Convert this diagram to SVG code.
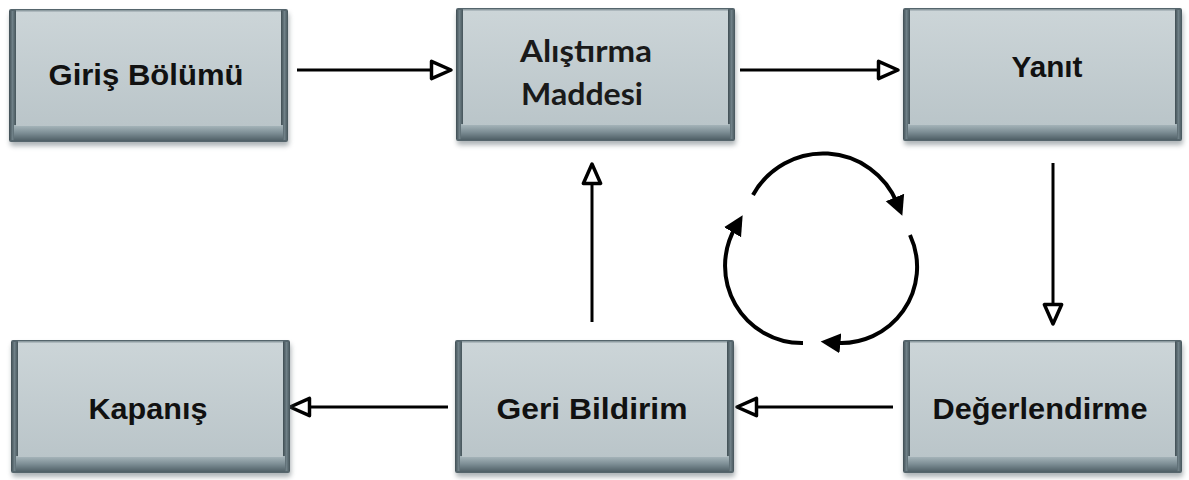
<svg xmlns="http://www.w3.org/2000/svg" xmlns:xlink="http://www.w3.org/1999/xlink" width="1189" height="480" viewBox="0 0 1189 480">
<style>
.lbl{font-family:'Liberation Sans',Arial,sans-serif;font-weight:bold;font-size:30px;fill:#111;text-anchor:middle}
.lbl2{font-family:Lato,'Open Sans',sans-serif;font-weight:bold;font-size:31px;fill:#1a1a1a}
.conn{stroke:#000;stroke-width:3;fill:none}
.cyc{stroke:#000;stroke-width:4;fill:none}
</style>
<defs>
<linearGradient id="face" x1="0" y1="0" x2="0" y2="1">
<stop offset="0" stop-color="#ccd5d8"/>
<stop offset="1" stop-color="#bac5c9"/>
</linearGradient>
<linearGradient id="bevel" x1="0" y1="0" x2="0" y2="1">
<stop offset="0" stop-color="#a9b8bd"/>
<stop offset="0.5" stop-color="#7d8e95"/>
<stop offset="1" stop-color="#4e5e65"/>
</linearGradient>
<linearGradient id="side" x1="0" y1="0" x2="1" y2="0">
<stop offset="0" stop-color="#3f4d53"/>
<stop offset="0.5" stop-color="#6f8087"/>
<stop offset="1" stop-color="#45545a"/>
</linearGradient>
<filter id="sh" x="-10%" y="-10%" width="120%" height="130%">
<feGaussianBlur stdDeviation="2.5"/>
</filter>
<symbol id="box" overflow="visible">
<rect x="1" y="4" width="279" height="133" rx="3" fill="#6a777c" opacity="0.55" filter="url(#sh)"/>
<rect x="0" y="0" width="279" height="133" rx="2" fill="#55656c"/>
<rect x="0" y="2" width="7" height="129" fill="url(#side)"/>
<rect x="272" y="2" width="7" height="129" fill="url(#side)"/>
<rect x="5" y="116" width="269" height="16" fill="url(#bevel)"/>
<rect x="7" y="2" width="265" height="115" fill="url(#face)"/>
<rect x="7" y="1" width="265" height="1.5" fill="#8e9ca1"/>
</symbol>
<marker id="open" markerUnits="userSpaceOnUse" markerWidth="26" markerHeight="24" viewBox="0 0 24 22" refX="21" refY="11" orient="auto">
<path d="M3,3 L21,11 L3,19 Z" fill="#fff" stroke="#000" stroke-width="3.2" stroke-linejoin="round"/>
</marker>
<marker id="solid" markerUnits="userSpaceOnUse" markerWidth="22" markerHeight="22" viewBox="0 0 20 20" refX="6" refY="10" orient="auto">
<path d="M0,1 L18,10 L0,19 Z" fill="#000"/>
</marker>
</defs>
<rect width="1189" height="480" fill="#fff"/>

<g id="connectors">
<line class="conn" x1="297" y1="70" x2="451" y2="70" marker-end="url(#open)"/>
<line class="conn" x1="740" y1="70" x2="898" y2="70" marker-end="url(#open)"/>
<line class="conn" x1="1053" y1="163" x2="1053" y2="324" marker-end="url(#open)"/>
<line class="conn" x1="893" y1="407" x2="737" y2="407" marker-end="url(#open)"/>
<line class="conn" x1="448" y1="407" x2="290" y2="407" marker-end="url(#open)"/>
<line class="conn" x1="592" y1="322" x2="592" y2="164" marker-end="url(#open)"/>
<path class="cyc" d="M753,195 A80,80 0 0,1 897.4,203.6" marker-end="url(#solid)"/>
<path class="cyc" d="M910,235 A76,76 0 0,1 833.8,342.7" marker-end="url(#solid)"/>
<path class="cyc" d="M803,343 A77,77 0 0,1 735.9,226.6" marker-end="url(#solid)"/>
</g>

<g id="giris">
<use xlink:href="#box" x="9" y="9"/>
<text class="lbl" x="146" y="85" textLength="195" lengthAdjust="spacingAndGlyphs">Giriş Bölümü</text>
</g>
<g id="alistirma">
<use xlink:href="#box" x="456" y="8"/>
<text class="lbl2" x="520" y="62" textLength="132" lengthAdjust="spacingAndGlyphs">Alıştırma</text>
<text class="lbl2" x="521" y="105" textLength="122" lengthAdjust="spacingAndGlyphs">Maddesi</text>
</g>
<g id="yanit">
<use xlink:href="#box" x="903" y="8"/>
<text class="lbl" x="1047" y="77" textLength="71" lengthAdjust="spacingAndGlyphs">Yanıt</text>
</g>
<g id="kapanis">
<use xlink:href="#box" x="11" y="340"/>
<text class="lbl" x="148" y="419" textLength="119" lengthAdjust="spacingAndGlyphs">Kapanış</text>
</g>
<g id="geri">
<use xlink:href="#box" x="455" y="340"/>
<text class="lbl" x="592" y="419" textLength="191" lengthAdjust="spacingAndGlyphs">Geri Bildirim</text>
</g>
<g id="degerlendirme">
<use xlink:href="#box" x="903" y="340"/>
<text class="lbl" x="1040" y="419" textLength="215" lengthAdjust="spacingAndGlyphs">Değerlendirme</text>
</g>
</svg>
